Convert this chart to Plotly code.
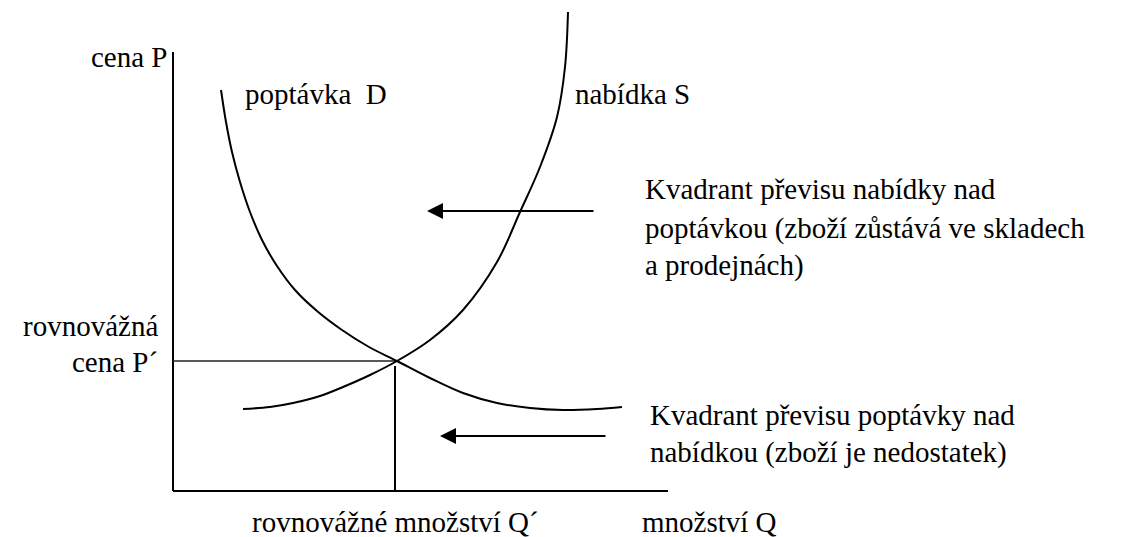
import plotly.graph_objects as go

# Demand curve D (quantity Q, price P)
demand_q = [48, 53, 59, 67, 77, 89, 104, 122, 144, 169, 196, 224, 257, 290, 324, 357, 390, 424, 449]
demand_p = [401, 369, 339, 309, 279, 251, 225, 201, 180, 161, 144, 130, 113, 98, 88, 83, 81, 82, 84]

# Supply curve S
supply_q = [70, 97, 120, 147, 170, 197, 224, 257, 290, 324, 347, 367, 384, 392, 395]
supply_p = [82, 84, 88, 95, 104, 116, 130, 151, 181, 229, 279, 324, 374, 424, 479]

# Equilibrium
eq_q = 224
eq_p = 130

# Axes extents
axis_q_max = 495
axis_p_max = 439

# Arrows (tail -> tip)
arrow_upper = dict(q_tail=422, q_tip=254, p=280)
arrow_lower = dict(q_tail=434, q_tip=267, p=55)

FONT = dict(family="Liberation Serif, Times New Roman, serif", size=29, color="black")

fig = go.Figure()

line_black = dict(color="black", width=2)

# axes
fig.add_trace(go.Scatter(x=[0, 0], y=[0, axis_p_max], mode="lines", line=line_black, hoverinfo="skip"))
fig.add_trace(go.Scatter(x=[0, axis_q_max], y=[0, 0], mode="lines", line=line_black, hoverinfo="skip"))

# equilibrium guide lines
fig.add_trace(go.Scatter(x=[0, eq_q], y=[eq_p, eq_p], mode="lines",
                         line=dict(color="#222", width=1.3), hoverinfo="skip"))
fig.add_trace(go.Scatter(x=[eq_q - 2, eq_q - 2], y=[eq_p - 5, 0], mode="lines",
                         line=line_black, hoverinfo="skip"))

# curves
fig.add_trace(go.Scatter(x=demand_q, y=demand_p, mode="lines",
                         line=dict(color="black", width=2, shape="spline", smoothing=1.0), hoverinfo="skip"))
fig.add_trace(go.Scatter(x=supply_q, y=supply_p, mode="lines",
                         line=dict(color="black", width=2, shape="spline", smoothing=1.0), hoverinfo="skip"))

annotations = []
for a in (arrow_upper, arrow_lower):
    annotations.append(dict(x=a["q_tip"], y=a["p"], ax=a["q_tail"], ay=a["p"],
                            xref="x", yref="y", axref="x", ayref="y", text="",
                            showarrow=True, arrowhead=2, arrowsize=1.6, arrowwidth=2,
                            arrowcolor="black", standoff=0))

def label(text, x, y, xanchor="left"):
    annotations.append(dict(x=x, y=y, xref="x", yref="y", text=text, showarrow=False,
                            xanchor=xanchor, yanchor="middle", font=FONT))

label("cena P", -3, 434, "right")
label("poptávka  D", 70, 397)
label("nabídka S", 400, 397)
label("Kvadrant převisu nabídky nad", 470, 302)
label("poptávkou (zboží zůstává ve skladech", 470, 263)
label("a prodejnách)", 470, 226)
label("rovnovážná", -13, 165, "right")
label("cena P´", -13, 129, "right")
label("Kvadrant převisu poptávky nad", 475, 76)
label("nabídkou (zboží je nedostatek)", 475, 39)
label("rovnovážné množství Q´", 222, -31, "center")
label("množství Q", 467, -31)

fig.update_layout(
    width=1127, height=537,
    margin=dict(l=0, r=0, t=0, b=0),
    paper_bgcolor="white", plot_bgcolor="white",
    showlegend=False,
    xaxis=dict(range=[-173, 954], visible=False, fixedrange=True),
    yaxis=dict(range=[-46, 491], visible=False, fixedrange=True),
    annotations=annotations,
)

fig.write_html("out.html", config={"displayModeBar": False},
               post_script="document.body.style.margin='0';document.body.style.overflow='hidden';")
